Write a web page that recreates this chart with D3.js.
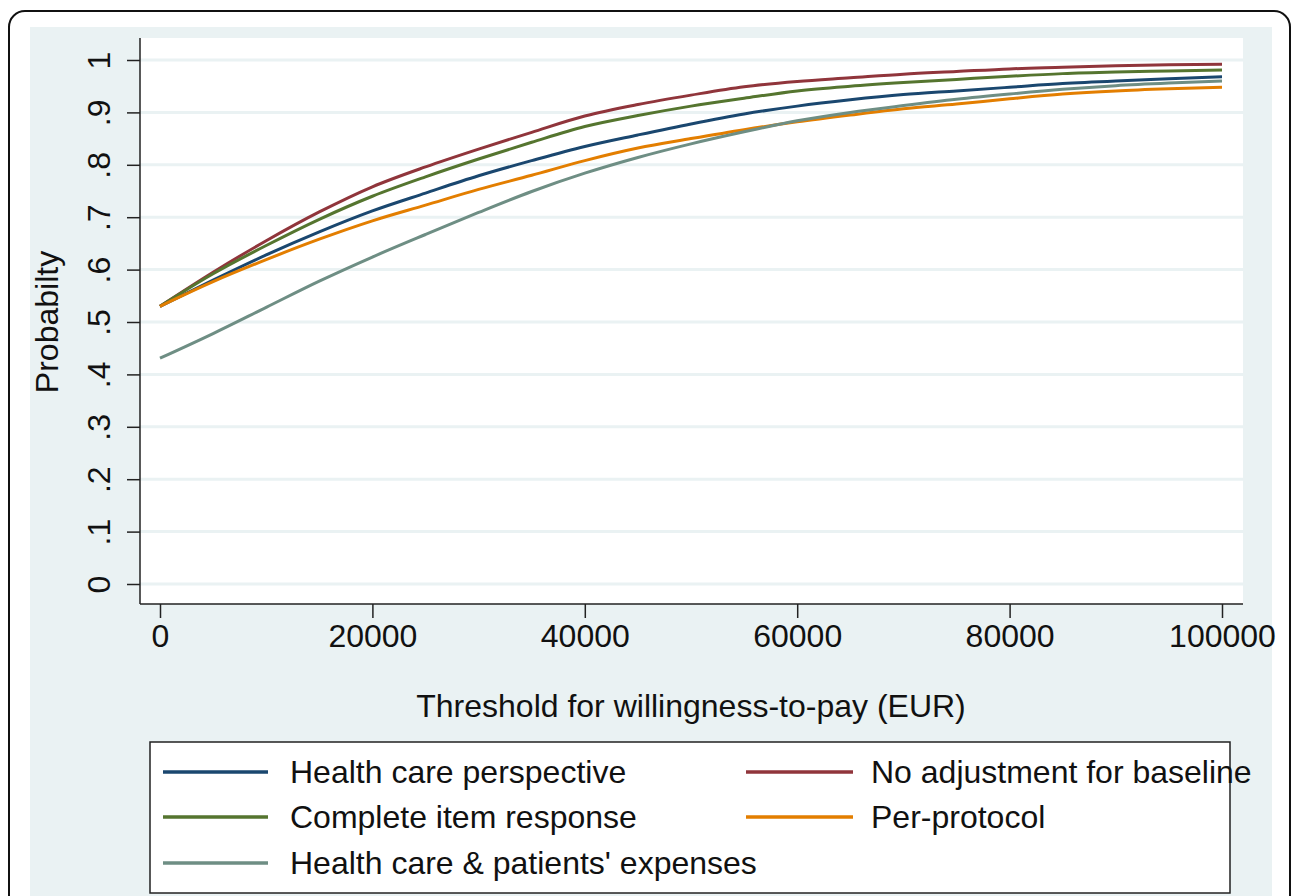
<!DOCTYPE html>
<html>
<head>
<meta charset="utf-8">
<script src="https://cdn.jsdelivr.net/npm/d3@7"></script>
<style>
  body { margin: 0; background: #fff; }
  svg { display: block; font-family: "Liberation Sans", Arial, sans-serif; }
</style>
</head>
<body>
<script>
// willingness-to-pay thresholds (EUR)
var thresholds = [0, 5000, 10000, 15000, 20000, 25000, 30000, 35000, 40000, 45000, 50000,
                  55000, 60000, 65000, 70000, 75000, 80000, 85000, 90000, 95000, 100000];

var healthCare   = [.530, .580, .628, .672, .712, .746, .779, .808, .835, .857, .878,
                    .897, .912, .924, .934, .941, .948, .955, .960, .964, .968];
var noAdjust     = [.530, .595, .655, .710, .758, .796, .830, .862, .893, .915, .933,
                    .949, .959, .966, .973, .978, .983, .986, .989, .991, .992];
var completeItem = [.530, .592, .646, .696, .740, .777, .811, .843, .873, .894, .912,
                    .927, .941, .950, .957, .963, .969, .974, .977, .979, .981];
var perProtocol  = [.530, .577, .619, .658, .693, .723, .753, .780, .808, .832, .850,
                    .867, .882, .895, .907, .916, .926, .935, .941, .945, .948];
var patientsExp  = [.431, .478, .528, .578, .624, .667, .709, .749, .784, .814, .840,
                    .863, .884, .900, .913, .925, .935, .944, .951, .956, .960];

var seriesNames = ["Health care perspective", "No adjustment for baseline",
                   "Complete item response", "Per-protocol",
                   "Health care & patients' expenses"];
var seriesColors = ["#1a476f", "#90353b", "#55752f", "#e37e00", "#6e8e84"];
var seriesValues = [healthCare, noAdjust, completeItem, perProtocol, patientsExp];

var xTicks = [0, 20000, 40000, 60000, 80000, 100000];
var yTicks = [0, .1, .2, .3, .4, .5, .6, .7, .8, .9, 1];
var yTickLabels = ["0", ".1", ".2", ".3", ".4", ".5", ".6", ".7", ".8", ".9", "1"];

var width = 1293, height = 896;
var fs = 32;

var svg = d3.select("body").append("svg")
    .attr("width", width)
    .attr("height", height);

// outer frame + graph region
svg.append("rect")
    .attr("x", 30).attr("y", 27)
    .attr("width", 1242).attr("height", 900)
    .attr("fill", "#eaf2f3");
svg.append("rect")
    .attr("x", 9).attr("y", 11)
    .attr("width", 1281).attr("height", 920)
    .attr("rx", 16)
    .attr("fill", "none")
    .attr("stroke", "#111")
    .attr("stroke-width", 2);

// plot region
svg.append("rect")
    .attr("x", 140).attr("y", 38)
    .attr("width", 1103).attr("height", 566)
    .attr("fill", "#fff");

var x = d3.scaleLinear().domain([0, 100000]).range([160, 1222]);
var y = d3.scaleLinear().domain([0, 1]).range([584, 60]);

// grid
svg.append("g").selectAll("line")
    .data(yTicks)
    .enter().append("line")
    .attr("x1", 140).attr("x2", 1243)
    .attr("y1", function(d){ return y(d); })
    .attr("y2", function(d){ return y(d); })
    .attr("stroke", "#eaf2f3")
    .attr("stroke-width", 3);

// series
var line = d3.line()
    .x(function(d, i){ return x(thresholds[i]); })
    .y(function(d){ return y(d); })
    .curve(d3.curveMonotoneX);

svg.append("g").selectAll("path")
    .data(seriesValues)
    .enter().append("path")
    .attr("d", line)
    .attr("fill", "none")
    .attr("stroke", function(d, i){ return seriesColors[i]; })
    .attr("stroke-width", 3);

// y axis
var yAxis = svg.append("g")
    .attr("transform", "translate(140,0)")
    .call(d3.axisLeft(y).tickValues(yTicks).tickSize(13).tickPadding(0)
        .tickFormat(function(d, i){ return yTickLabels[i]; }));
yAxis.select(".domain")
    .attr("d", "M0,38V604")
    .attr("stroke", "#222").attr("stroke-width", 1.5);
yAxis.selectAll(".tick line").attr("stroke", "#222").attr("stroke-width", 1.5);
yAxis.selectAll(".tick text")
    .attr("x", null).attr("dy", null)
    .attr("transform", "translate(-30,0) rotate(-90)")
    .attr("text-anchor", "middle")
    .attr("fill", "#111")
    .style("font-size", fs + "px")
    .style("font-family", "Liberation Sans, Arial, sans-serif");

// x axis
var xAxis = svg.append("g")
    .attr("transform", "translate(0,604)")
    .call(d3.axisBottom(x).tickValues(xTicks).tickSize(14).tickPadding(0)
        .tickFormat(d3.format("d")));
xAxis.select(".domain")
    .attr("d", "M140,0H1243")
    .attr("stroke", "#222").attr("stroke-width", 1.5);
xAxis.selectAll(".tick line").attr("stroke", "#222").attr("stroke-width", 1.5);
xAxis.selectAll(".tick text")
    .attr("y", 43).attr("dy", null)
    .attr("fill", "#111")
    .style("font-size", fs + "px")
    .style("font-family", "Liberation Sans, Arial, sans-serif");

// axis titles
svg.append("text")
    .attr("transform", "translate(58,322) rotate(-90)")
    .attr("text-anchor", "middle")
    .attr("fill", "#111")
    .style("font-size", fs + "px")
    .text("Probabilty");
svg.append("text")
    .attr("x", 691).attr("y", 717)
    .attr("text-anchor", "middle")
    .attr("fill", "#111")
    .style("font-size", fs + "px")
    .text("Threshold for willingness-to-pay (EUR)");

// legend
svg.append("rect")
    .attr("x", 150).attr("y", 742)
    .attr("width", 1080).attr("height", 151)
    .attr("fill", "#fff")
    .attr("stroke", "#222")
    .attr("stroke-width", 1.5);

var legendCols = [[163, 268, 290], [746, 853, 871]];
var legendRows = [772, 817, 863];

var leg = svg.append("g").selectAll("g")
    .data(seriesNames)
    .enter().append("g");
leg.append("line")
    .attr("x1", function(d, i){ return legendCols[i % 2][0]; })
    .attr("x2", function(d, i){ return legendCols[i % 2][1]; })
    .attr("y1", function(d, i){ return legendRows[Math.floor(i / 2)]; })
    .attr("y2", function(d, i){ return legendRows[Math.floor(i / 2)]; })
    .attr("stroke", function(d, i){ return seriesColors[i]; })
    .attr("stroke-width", 3.5);
leg.append("text")
    .attr("x", function(d, i){ return legendCols[i % 2][2]; })
    .attr("y", function(d, i){ return legendRows[Math.floor(i / 2)] + 11; })
    .attr("fill", "#111")
    .style("font-size", fs + "px")
    .text(function(d){ return d; });
</script>
</body>
</html>
